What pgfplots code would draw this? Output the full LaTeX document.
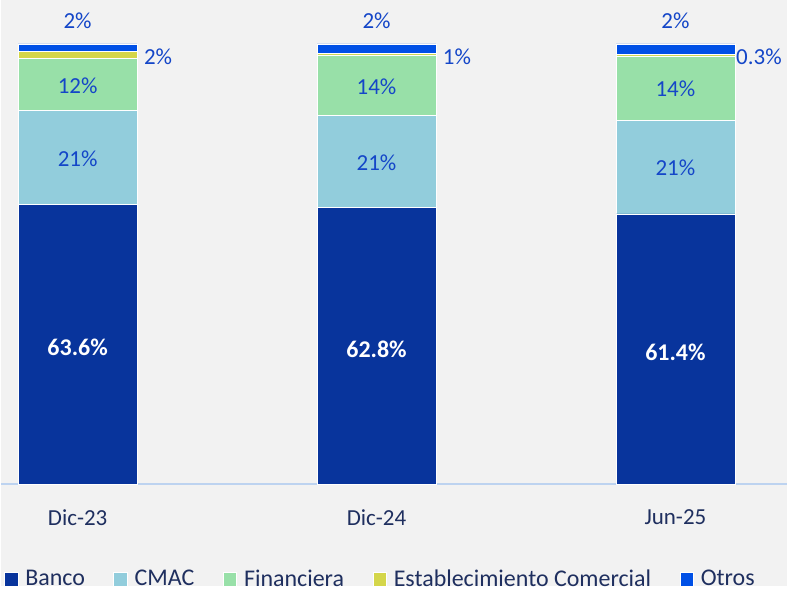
\documentclass[border=0pt]{standalone}
\usepackage{pgfplots}
\pgfplotsset{compat=1.18}
\usepackage{fontspec}
\setmainfont{Carlito}
\definecolor{bg}{HTML}{F2F2F2}
\definecolor{banco}{HTML}{08349C}
\definecolor{cmac}{HTML}{92CDDC}
\definecolor{fin}{HTML}{98E0A8}
\definecolor{est}{HTML}{D4D64A}
\definecolor{otros}{HTML}{0050E6}
\definecolor{lbl}{HTML}{1446C8}
\definecolor{tick}{HTML}{1F2F5F}
\definecolor{axl}{HTML}{BDD3F0}
\tikzset{lb/.style={font=\fontsize{11.5}{13}\selectfont, text=lbl},
  wb/.style={text=white, font=\fontsize{12}{14}\selectfont\bfseries}}
\begin{document}
\begin{tikzpicture}
\fill[bg] (0,0) rectangle (394pt,293.5pt);
\begin{axis}[
  at={(0pt,51pt)}, anchor=south west,
  scale only axis, width=394pt, height=242.5pt,
  ybar stacked, bar width=59.5pt,
  xmin=-0.257, xmax=2.374, ymin=0, ymax=110,
  hide y axis,
  axis x line*=bottom,
  x axis line style={draw=axl, line width=0.8pt},
  xtick={0,1,2}, xticklabels={Dic-23,Dic-24,Jun-25},
  major tick length=0pt,
  xticklabel style={font=\fontsize{11.5}{13}\selectfont, text=tick, yshift=-9.5pt},
  clip=false,
  legend columns=5,
  legend style={draw=none, fill=none, at={(0.484,-0.197)}, anchor=center,
    font=\fontsize{12}{14}\selectfont, text=tick,
    /tikz/every even column/.append style={column sep=12.3pt},
    /tikz/every odd column/.append style={column sep=1.5pt},
    inner sep=0pt},
  legend image code/.code={\fill[#1] (0pt,-3.4pt) rectangle (6.8pt,3.4pt);},
]
\addplot[fill=banco, draw=white, line width=0.3pt] coordinates {(0,63.6) (1,62.8) (2,61.4)};
\addplot[fill=cmac, draw=white, line width=0.3pt] coordinates {(0,21.3) (1,20.9) (2,21.3)};
\addplot[fill=fin, draw=white, line width=0.3pt] coordinates {(0,11.8) (1,13.8) (2,14.6)};
\addplot[fill=est, draw=white, line width=0.3pt] coordinates {(0,1.6) (1,0.3) (2,0.3)};
\addplot[fill=otros, draw=white, line width=0.3pt] coordinates {(0,1.7) (1,2.2) (2,2.4)};
\legend{Banco,CMAC,Financiera,Establecimiento Comercial,Otros}
\coordinate (b0) at (axis cs:0,31.8);
\coordinate (b1) at (axis cs:1,31.4);
\coordinate (b2) at (axis cs:2,30.7);
\coordinate (c0) at (axis cs:0,74.25);
\coordinate (c1) at (axis cs:1,73.25);
\coordinate (c2) at (axis cs:2,72.05);
\coordinate (f0) at (axis cs:0,90.8);
\coordinate (f1) at (axis cs:1,90.6);
\coordinate (f2) at (axis cs:2,90.0);
\node[lb] at (axis cs:0,105.2) {2\%};
\node[lb] at (axis cs:1,105.2) {2\%};
\node[lb] at (axis cs:2,105.2) {2\%};
\node[lb, anchor=west] at (axis cs:0.1987,97.0) {2\%};
\node[lb, anchor=west] at (axis cs:1.1987,97.0) {1\%};
\node[lb, anchor=west, inner sep=0.5pt] at (axis cs:2.1987,97.0) {0.3\%};
\end{axis}
\node[wb, yshift=-1.8pt] at (b0) {63.6\%};
\node[wb, yshift=-1.8pt] at (b1) {62.8\%};
\node[wb, yshift=-1.8pt] at (b2) {61.4\%};
\node[lb, yshift=-0.5pt] at (c0) {21\%};
\node[lb, yshift=-0.5pt] at (c1) {21\%};
\node[lb, yshift=-0.5pt] at (c2) {21\%};
\node[lb, yshift=-0.5pt] at (f0) {12\%};
\node[lb, yshift=-0.5pt] at (f1) {14\%};
\node[lb, yshift=-0.5pt] at (f2) {14\%};
\end{tikzpicture}
\end{document}
